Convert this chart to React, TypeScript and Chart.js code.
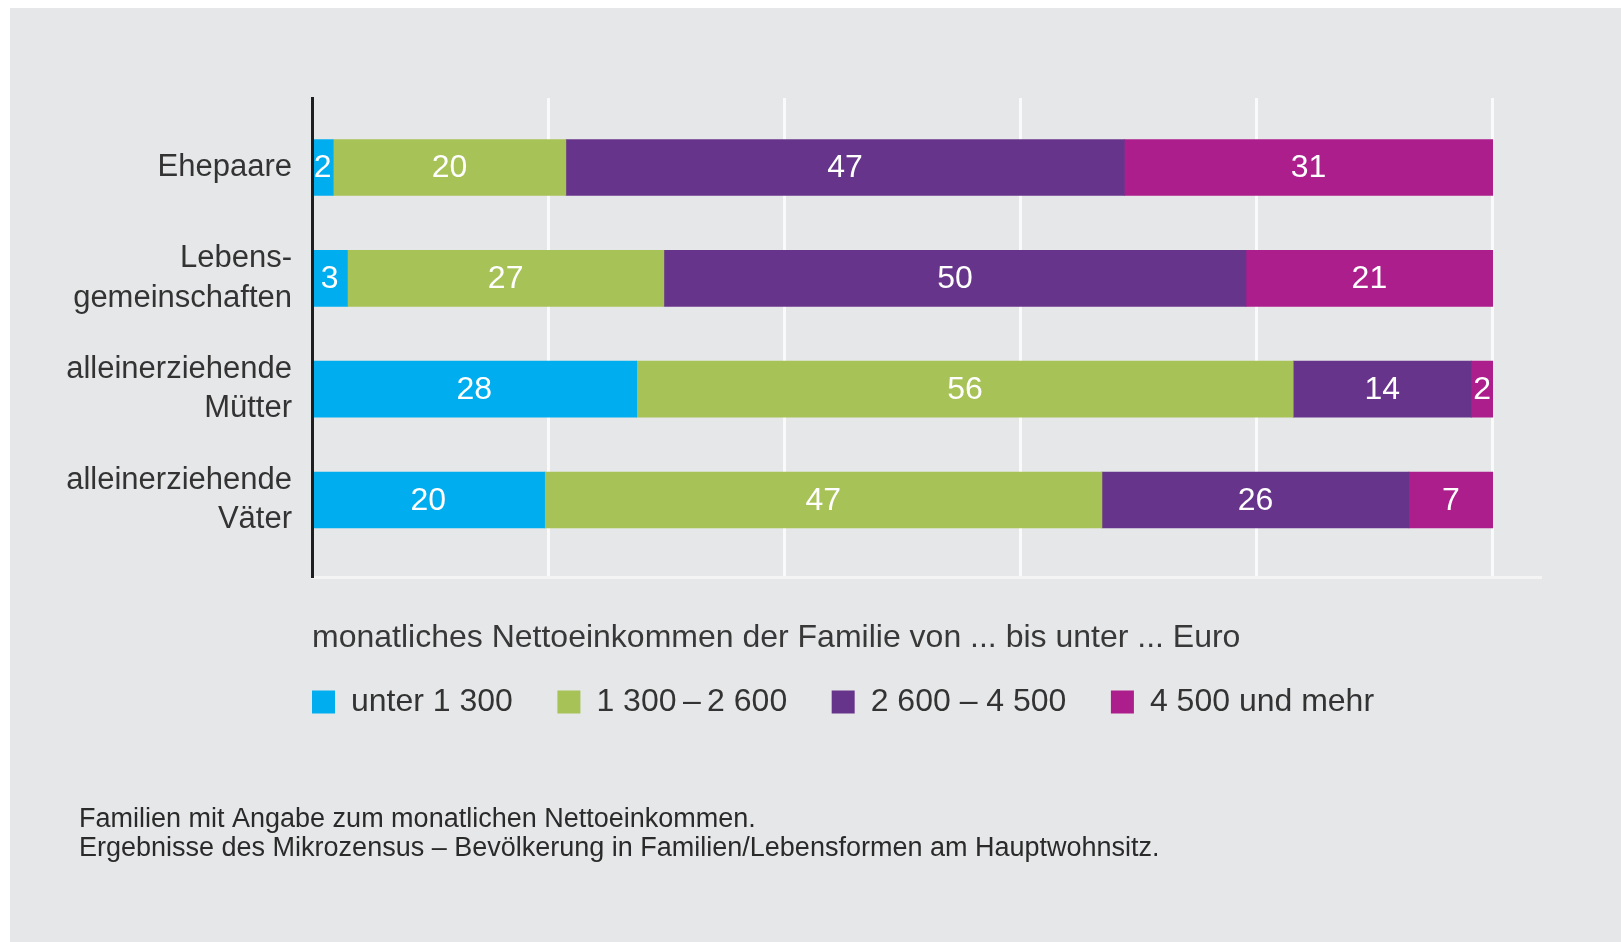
import React, { useEffect, useRef } from 'react';
import { Chart, registerables } from 'chart.js';

Chart.register(...registerables);

const FONT = '"Liberation Sans", Arial, Helvetica, sans-serif';

// Categories (y axis), each as lines of the label
const categories: string[][] = [
  ['Ehepaare'],
  ['Lebens-', 'gemeinschaften'],
  ['alleinerziehende', 'Mütter'],
  ['alleinerziehende', 'Väter'],
];

// Series names (legend)
const seriesNames = ['unter 1 300', '1 300\u2009–\u20092 600', '2 600 – 4 500', '4 500 und mehr'];
const seriesColors = ['#00aeef', '#a7c256', '#67348b', '#ad1e8d'];

// Bar lengths in percent
const under1300 = [1.8, 3.0, 27.5, 19.7];
const from1300to2600 = [19.7, 26.8, 55.6, 47.2];
const from2600to4500 = [47.3, 49.3, 15.1, 26.0];
const from4500 = [31.2, 20.9, 1.8, 7.1];

// Printed value labels
const under1300Labels = [2, 3, 28, 20];
const from1300to2600Labels = [20, 27, 56, 47];
const from2600to4500Labels = [47, 50, 14, 26];
const from4500Labels = [31, 21, 2, 7];

// x axis grid ticks
const xTicks = [20, 40, 60, 80, 100];

const heading = 'monatliches Nettoeinkommen der Familie von ... bis unter ... Euro';
const footnote = [
  'Familien mit Angabe zum monatlichen Nettoeinkommen.',
  'Ergebnisse des Mikrozensus – Bevölkerung in Familien/Lebensformen am Hauptwohnsitz.',
];

const seriesValues = [under1300, from1300to2600, from2600to4500, from4500];
const seriesLabels = [under1300Labels, from1300to2600Labels, from2600to4500Labels, from4500Labels];

const FOOTNOTE_INDENT = 79;

const valueLabelPlugin = {
  id: 'valueLabels',
  afterDatasetsDraw(chart: any) {
    const ctx = chart.ctx;
    ctx.save();
    ctx.font = `32px ${FONT}`;
    ctx.fillStyle = '#ffffff';
    ctx.textAlign = 'center';
    ctx.textBaseline = 'middle';
    chart.data.datasets.forEach((_ds: any, di: number) => {
      const meta = chart.getDatasetMeta(di);
      meta.data.forEach((bar: any, i: number) => {
        const { x, y, base } = bar.getProps(['x', 'y', 'base'], true);
        ctx.fillText(String(seriesLabels[di][i]), (x + base) / 2, y + 1);
      });
    });
    ctx.restore();
  },
};

// Legend items start flush with the plot's left edge; footnote indented
const boxShiftPlugin = {
  id: 'boxShift',
  afterLayout(chart: any) {
    const lg = chart.legend;
    if (lg) {
      const pad = lg.options.labels.padding;
      lg.left -= pad;
      lg.right -= pad;
    }
    const tb = chart.titleBlock;
    if (tb) {
      tb.left += FOOTNOTE_INDENT;
      tb.right += FOOTNOTE_INDENT;
    }
  },
};

export default function App() {
  const ref = useRef<HTMLCanvasElement>(null);

  useEffect(() => {
    if (!ref.current) return;
    const chart = new Chart(ref.current, {
      type: 'bar',
      data: {
        datasets: seriesNames.map((name, si) => ({
          label: name,
          data: seriesValues[si].map((v, i) => ({ x: v, y: i })),
          backgroundColor: seriesColors[si],
          borderWidth: 0,
          barThickness: 56,
        })),
      },
      options: {
        animation: false,
        responsive: true,
        maintainAspectRatio: false,
        indexAxis: 'y',
        layout: { padding: { left: 0, right: 81, top: 98, bottom: 78.5 } },
        scales: {
          x: {
            type: 'linear',
            min: 0,
            max: 104,
            stacked: true,
            grid: { color: '#fafafa', lineWidth: 3, drawTicks: false },
            border: { color: '#f4f4f4', width: 3 },
            ticks: { display: false },
            afterBuildTicks: (s: any) => {
              s.ticks = xTicks.map((v) => ({ value: v }));
            },
            afterFit: (s: any) => {
              s.height = 0;
            },
          },
          y: {
            type: 'linear',
            min: -0.627,
            max: 3.695,
            reverse: true,
            offset: false,
            stacked: true,
            grid: { display: false, drawTicks: false, offset: false },
            border: { color: '#1e1e1e', width: 3, z: 1 },
            ticks: {
              padding: 20,
              color: '#333333',
              autoSkip: false,
              font: { family: FONT, size: 31, lineHeight: 1.27 },
              callback: (v: any) => categories[v as number] ?? '',
            },
            afterBuildTicks: (s: any) => {
              s.ticks = categories.map((_c, i) => ({ value: i }));
            },
            afterFit: (s: any) => {
              s.width = 312;
            },
          },
        },
        plugins: {
          tooltip: { enabled: false },
          subtitle: {
            display: true,
            text: heading,
            position: 'bottom',
            align: 'start',
            fullSize: false,
            weight: 500,
            color: '#383838',
            font: { family: FONT, size: 32, weight: 'normal', lineHeight: 1 },
            padding: { top: 45, bottom: -12.5 },
          },
          legend: {
            display: true,
            position: 'bottom',
            align: 'start',
            fullSize: false,
            weight: 1000,
            labels: {
              boxWidth: 23,
              boxHeight: 23,
              padding: 44.5,
              color: '#333333',
              font: { family: FONT, size: 32 },
            },
          },
          title: {
            display: true,
            text: footnote,
            position: 'bottom',
            align: 'start',
            fullSize: true,
            color: '#2a2a2a',
            font: { family: FONT, size: 27, weight: 'normal', lineHeight: 29 / 27 },
            padding: { top: 77.5, bottom: 0 },
          },
        },
      } as any,
      plugins: [valueLabelPlugin, boxShiftPlugin],
    });
    return () => chart.destroy();
  }, []);

  return (
    <>
      <div
        style={{ position: 'fixed', left: 10, top: 8, right: 0, bottom: 0, background: '#e6e7e8' }}
      />
      <div style={{ position: 'fixed', left: 0, top: 0, width: 1621, height: 942 }}>
        <canvas ref={ref} />
      </div>
    </>
  );
}
